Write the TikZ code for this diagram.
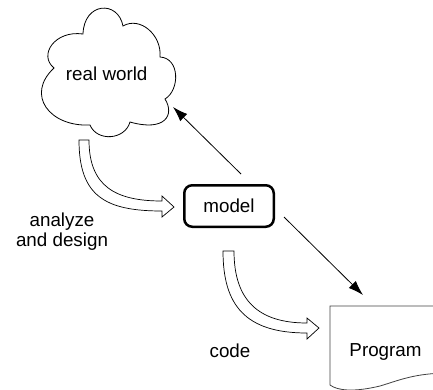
\documentclass[tikz,border=0pt]{standalone}
\usepackage{fontspec}
\setmainfont{Liberation Sans}
\usetikzlibrary{arrows.meta}
\begin{document}
\begin{tikzpicture}[x=1pt,y=-1pt,
  font=\fontsize{18.8}{20}\selectfont,
  lbl/.style={inner sep=0pt,anchor=base},
  outline/.style={draw=black,line width=0.8pt},
  arr/.style={line width=0.8pt,-{Latex[length=15pt,width=10pt]}},
  hollow/.style={draw=black,fill=white,line width=0.7pt,line join=miter},
  modelbox/.style={draw=black,line width=2.5pt,rounded corners=8pt,minimum width=89.5pt,minimum height=41.5pt,inner sep=0pt}]
\useasboundingbox (0,0) rectangle (433,389);
% cloud (real world)
\draw[outline] (83,34) .. controls (84,2) and (118,0) .. (123,26)
  .. controls (140,16) and (162,35) .. (160,57)
  .. controls (180,58) and (180,90) .. (165,99)
  .. controls (175,115) and (165,132) .. (130,122)
  .. controls (125,140) and (97,142) .. (90,125)
  .. controls (50,127) and (25,95) .. (54,68)
  .. controls (38,55) and (55,30) .. (83,34) -- cycle;
\node[lbl] (rw) at (106.7,80) {real world};
\coordinate (cloudtip) at (173,107);
% model
\node[modelbox] (model) at (229,206) {model};
% program document
\begin{scope}
\clip (0,0) rectangle (433,389);
\draw[draw=black!75,line width=0.8pt] (450,306) -- (330,306) -- (330,385)
  .. controls (338,391) and (355,392) .. (380,386)
  .. controls (400,380) and (415,373) .. (450,373);
\end{scope}
\node[lbl] (prog) at (385.5,356) {Program};
\coordinate (progtip) at (363,295);
% connectors
\draw[arr] ([shift={(12,-10)}]model.north) -- (cloudtip);
\draw[arr] ([shift={(9,11)}]model.east) -- (progtip);
% hollow arrows
\draw[hollow] (79,140) .. controls (79,196) and (105,211) .. (162,211)
  -- (162,217) -- (174,207) -- (162,196) -- (162,201)
  .. controls (115,201) and (89,186) .. (89,140) -- cycle;
\draw[hollow] (223,251) .. controls (223,305) and (245,333) .. (307,333)
  -- (307,339) -- (319,328) -- (307,318) -- (307,323)
  .. controls (258,323) and (234,300) .. (234,251) -- cycle;
% labels
\node[lbl,align=center] (ad) at (62,246) {analyze\\and design};
\node[lbl] (code) at (230,357) {code};
\end{tikzpicture}
\end{document}
